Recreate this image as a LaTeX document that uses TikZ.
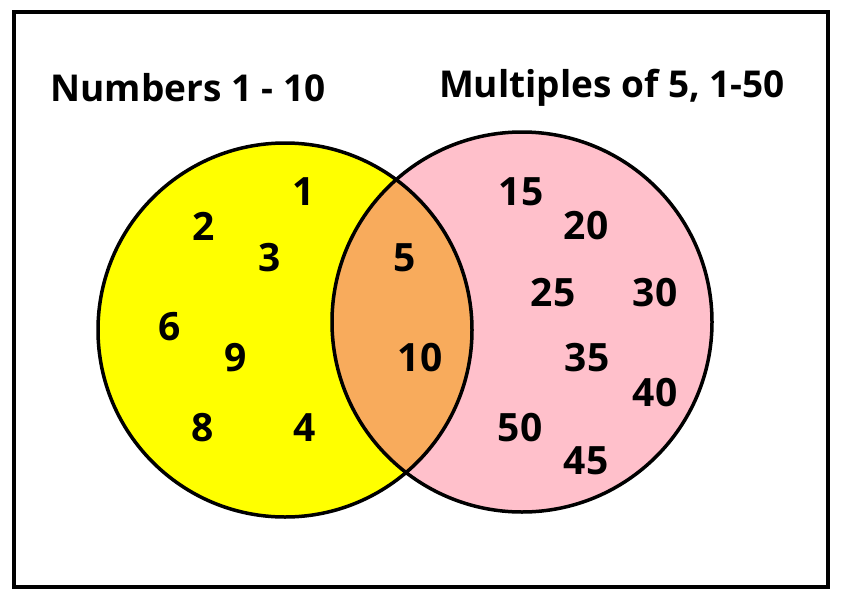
\documentclass[tikz,border=0pt]{standalone}
\usepackage{fontspec}
\setmainfont{Open Sans}
\definecolor{lens}{HTML}{F8AB5C}
\definecolor{pinkf}{HTML}{FFC0CB}
\definecolor{yel}{HTML}{FFFF00}
\begin{document}
\begin{tikzpicture}[x=1pt,y=-1pt,
  num/.style={font=\fontsize{39}{39}\selectfont\bfseries},
  ttl/.style={font=\fontsize{37}{37}\selectfont\bfseries},
  ring/.style={line width=3.5pt}]
\useasboundingbox (0,0) rectangle (843,600);
\fill[white] (0,0) rectangle (843,600);
\draw[line width=3.5pt] (14,12) rectangle (828,587);
\coordinate (cl) at (285,330);
\coordinate (cr) at (522,322);
\fill[yel] (cl) circle (187);
\fill[pinkf] (cr) circle (190);
\begin{scope}
\clip (cl) circle (187);
\fill[lens] (cr) circle (190);
\end{scope}
\draw[ring] (cl) circle (187);
\draw[ring] (cr) circle (190);
\node[ttl] (t1) at (188,88) {Numbers 1 - 10};
\node[ttl] (t2) at (612,88) {Multiples of 5, 1-50};
\node[num] (n1) at (304,192) {1};
\node[num] (n2) at (204,226) {2};
\node[num] (n3) at (270,258) {3};
\node[num] (n6) at (170,327) {6};
\node[num] (n9) at (236,358) {9};
\node[num] (n8) at (203,428) {8};
\node[num] (n4) at (305,428) {4};
\node[num] (n5) at (405,258) {5};
\node[num] (n10) at (420,358) {10};
\node[num] (n15) at (521,192) {15};
\node[num] (n20) at (586,226) {20};
\node[num] (n25) at (553,293) {25};
\node[num] (n30) at (655,293) {30};
\node[num] (n35) at (587,358) {35};
\node[num] (n40) at (655,393) {40};
\node[num] (n50) at (520,428) {50};
\node[num] (n45) at (586,461) {45};
\end{tikzpicture}
\end{document}
